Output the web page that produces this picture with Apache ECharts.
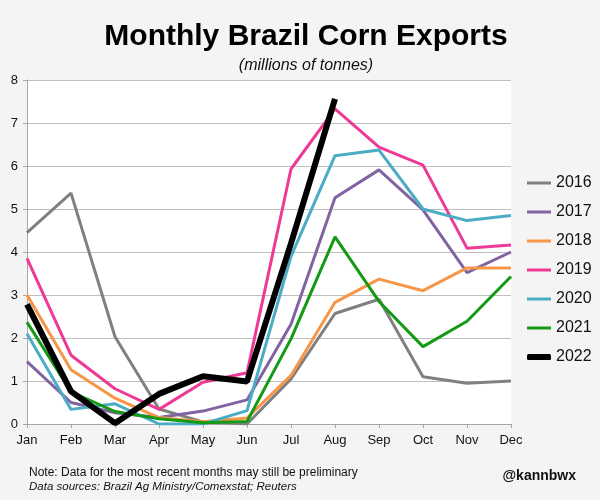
<!DOCTYPE html>
<html>
<head>
<meta charset="utf-8">
<script src="https://cdn.jsdelivr.net/npm/echarts@6/dist/echarts.min.js"></script>
<style>
html,body{margin:0;padding:0;background:#f4f4f4;}
#c{width:600px;height:500px;}
</style>
</head>
<body>
<div id="c"></div>
<script>
const months = ['Jan','Feb','Mar','Apr','May','Jun','Jul','Aug','Sep','Oct','Nov','Dec'];
const yTicks = [0,1,2,3,4,5,6,7,8];
const y2016 = [4.45, 5.37, 2.03, 0.35, 0.05, 0.0, 1.05, 2.57, 2.9, 1.1, 0.95, 1.0];
const y2017 = [1.45, 0.5, 0.26, 0.15, 0.3, 0.56, 2.32, 5.26, 5.91, 4.98, 3.52, 4.0];
const y2018 = [3.0, 1.26, 0.6, 0.15, 0.05, 0.14, 1.13, 2.83, 3.37, 3.1, 3.63, 3.63];
const y2019 = [3.85, 1.6, 0.82, 0.34, 0.97, 1.19, 5.93, 7.33, 6.44, 6.02, 4.09, 4.16];
const y2020 = [2.1, 0.34, 0.47, 0.0, 0.0, 0.31, 3.9, 6.24, 6.37, 5.0, 4.73, 4.85];
const y2021 = [2.37, 0.75, 0.29, 0.12, 0.03, 0.06, 1.98, 4.35, 2.85, 1.8, 2.39, 3.43];
const y2022 = [2.78, 0.76, 0.02, 0.7, 1.11, 0.99, 4.2, 7.56];

const seriesDefs = [
  {name:'2016', data:y2016, color:'#808080', w:3},
  {name:'2017', data:y2017, color:'#8064a2', w:3},
  {name:'2018', data:y2018, color:'#f79646', w:3},
  {name:'2019', data:y2019, color:'#ee3a96', w:3},
  {name:'2020', data:y2020, color:'#4bacc6', w:3},
  {name:'2021', data:y2021, color:'#149a14', w:3},
  {name:'2022', data:y2022, color:'#000000', w:6}
];

const chart = echarts.init(document.getElementById('c'));
const font = 'Liberation Sans, Arial, sans-serif';
chart.setOption({
  backgroundColor:'#f4f4f4',
  animation:false,
  textStyle:{fontFamily:font},
  title:[
    {text:'Monthly Brazil Corn Exports', left:301, top:17, textAlign:'center',
     textStyle:{fontSize:30, fontWeight:'bold', color:'#000', fontFamily:font}},
    {text:'(millions of tonnes)', left:301, top:53, textAlign:'center',
     textStyle:{fontSize:16, fontStyle:'italic', fontWeight:'normal', color:'#111', fontFamily:font}},
    {text:'Note: Data for the most recent months may still be preliminary', left:24, top:462,
     textStyle:{fontSize:12, fontWeight:'normal', color:'#111', fontFamily:font}},
    {text:'Data sources: Brazil Ag Ministry/Comexstat; Reuters', left:24, top:476,
     textStyle:{fontSize:11.5, fontStyle:'italic', fontWeight:'normal', color:'#111', fontFamily:font}},
    {text:'@kannbwx', right:19, top:464,
     textStyle:{fontSize:14, fontWeight:'bold', color:'#111', fontFamily:font}}
  ],
  grid:{left:27, right:89, top:80, bottom:76, show:true, backgroundColor:'#ffffff', borderWidth:0},
  legend:[
    {orient:'vertical', left:522, top:170, itemWidth:24, itemHeight:3, itemGap:13, icon:'rect',
     data:['2016','2017','2018','2019','2020','2021'],
     textStyle:{fontSize:16, color:'#111', fontFamily:font}},
    {orient:'vertical', left:522, top:344, itemWidth:24, itemHeight:6, icon:'roundRect',
     data:['2022'],
     textStyle:{fontSize:16, color:'#111', fontFamily:font}}
  ],
  xAxis:{type:'category', data:months, boundaryGap:false,
    axisLine:{lineStyle:{color:'#a6a6a6', width:1}},
    axisTick:{show:true, alignWithLabel:true, length:4, lineStyle:{color:'#a6a6a6'}},
    axisLabel:{fontSize:13, color:'#111', margin:10, fontFamily:font},
    splitLine:{show:false}},
  yAxis:{type:'value', min:0, max:8, interval:1,
    axisLine:{show:true, lineStyle:{color:'#a6a6a6', width:1}},
    axisTick:{show:true, length:4, lineStyle:{color:'#a6a6a6'}},
    axisLabel:{fontSize:13, color:'#111', margin:9, fontFamily:font,
      formatter:function(v){return yTicks.indexOf(v)>=0 ? String(v) : '';}},
    splitLine:{show:true, lineStyle:{color:'#bfbfbf', width:1}}},
  series: seriesDefs.map(function(s){
    return {name:s.name, type:'line', data:s.data, symbol:'none', smooth:false,
      color:s.color, lineStyle:{color:s.color, width:s.w}, z: s.name==='2022'?10:2};
  })
});
</script>
</body>
</html>
